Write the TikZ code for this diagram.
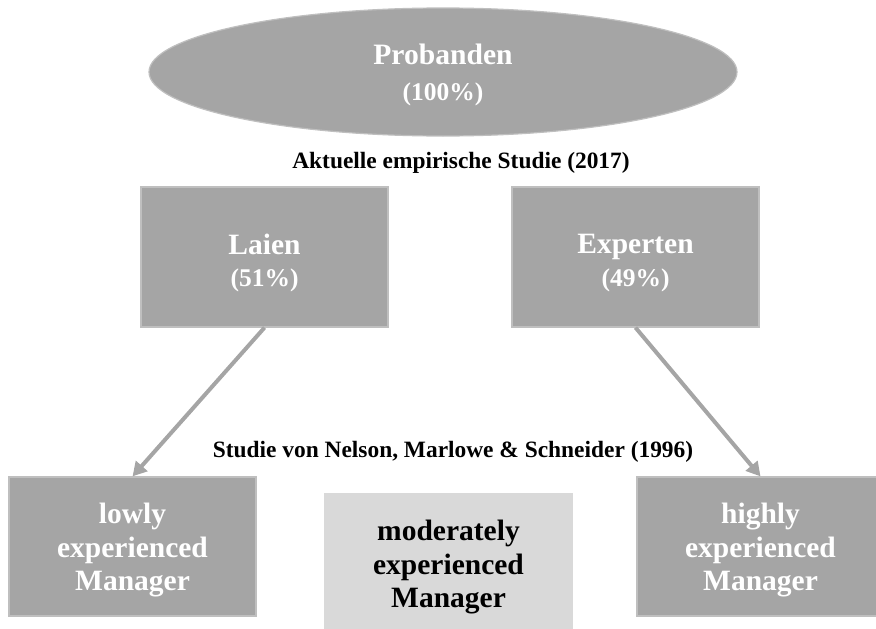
\documentclass[tikz,border=0pt]{standalone}
\usepackage{fontspec}
\setmainfont{Liberation Serif}
\usetikzlibrary{shapes.geometric,arrows.meta}
\definecolor{boxgray}{HTML}{A5A5A5}
\definecolor{edgegray}{HTML}{BFBFBF}
\definecolor{lightgray}{HTML}{D9D9D9}
\begin{document}
\begin{tikzpicture}[x=1pt,y=-1pt,
   darkbox/.style={draw=edgegray,line width=1.2pt,fill=boxgray,
      minimum width=247pt,minimum height=139pt,inner sep=0pt},
   lightbox/.style={darkbox,draw=none,fill=lightgray,minimum width=249pt},
   boxtext/.style={text=white,align=center,inner sep=0pt,
      font=\bfseries\fontsize{29.5}{33.5}\selectfont},
   caption/.style={anchor=base,font=\bfseries\fontsize{23.4}{26}\selectfont},
   link/.style={draw=boxgray,line width=4pt,-{Triangle[length=14pt,width=15pt]}}]
   \useasboundingbox (0,0) rectangle (876,629);
   \clip (0,0) rectangle (876,629);

   \node[ellipse,draw=edgegray,line width=1.2pt,fill=boxgray,
      minimum width=588pt,minimum height=128pt] (probanden) at (443,72) {};
   \node[boxtext,font=\bfseries\fontsize{29.6}{30}\selectfont] (probanden text)
      at ([yshift=-3pt]probanden.center)
      {Probanden\\[6pt]{\fontsize{25.5}{30}\selectfont(100\%)}};
   \node[caption] (aktuell) at (461,168) {Aktuelle empirische Studie (2017)};

   \node[darkbox,minimum height=140pt] (laien) at (264.5,257) {};
   \node[boxtext] (laien text) at ([yshift=-6pt]laien.center)
      {Laien\\[-1pt]{\fontsize{25.5}{30}\selectfont(51\%)}};
   \node[darkbox,minimum height=140pt] (experten) at (635.5,257) {};
   \node[boxtext] (experten text) at ([yshift=-6pt]experten.center)
      {Experten\\[-1pt]{\fontsize{25.5}{30}\selectfont(49\%)}};

   \node[caption] (nelson) at (453,457) {Studie von Nelson, Marlowe \& Schneider (1996)};

   \node[darkbox] (lowly) at (132.5,546.5) {};
   \node[boxtext] (lowly text) at ([yshift=-4pt]lowly.center)
      {lowly\\experienced\\Manager};
   \node[lightbox] (moderately) at (448.5,562.5) {};
   \node[boxtext,text=black] (moderately text) at ([yshift=-5pt]moderately.center)
      {moderately\\experienced\\Manager};
   \node[darkbox] (highly) at (760.5,546.5) {};
   \node[boxtext] (highly text) at ([yshift=-4pt]highly.center)
      {highly\\experienced\\Manager};

   \draw[link] (laien.south) -- (lowly.north);
   \draw[link] (experten.south) -- (highly.north);
\end{tikzpicture}
\end{document}
